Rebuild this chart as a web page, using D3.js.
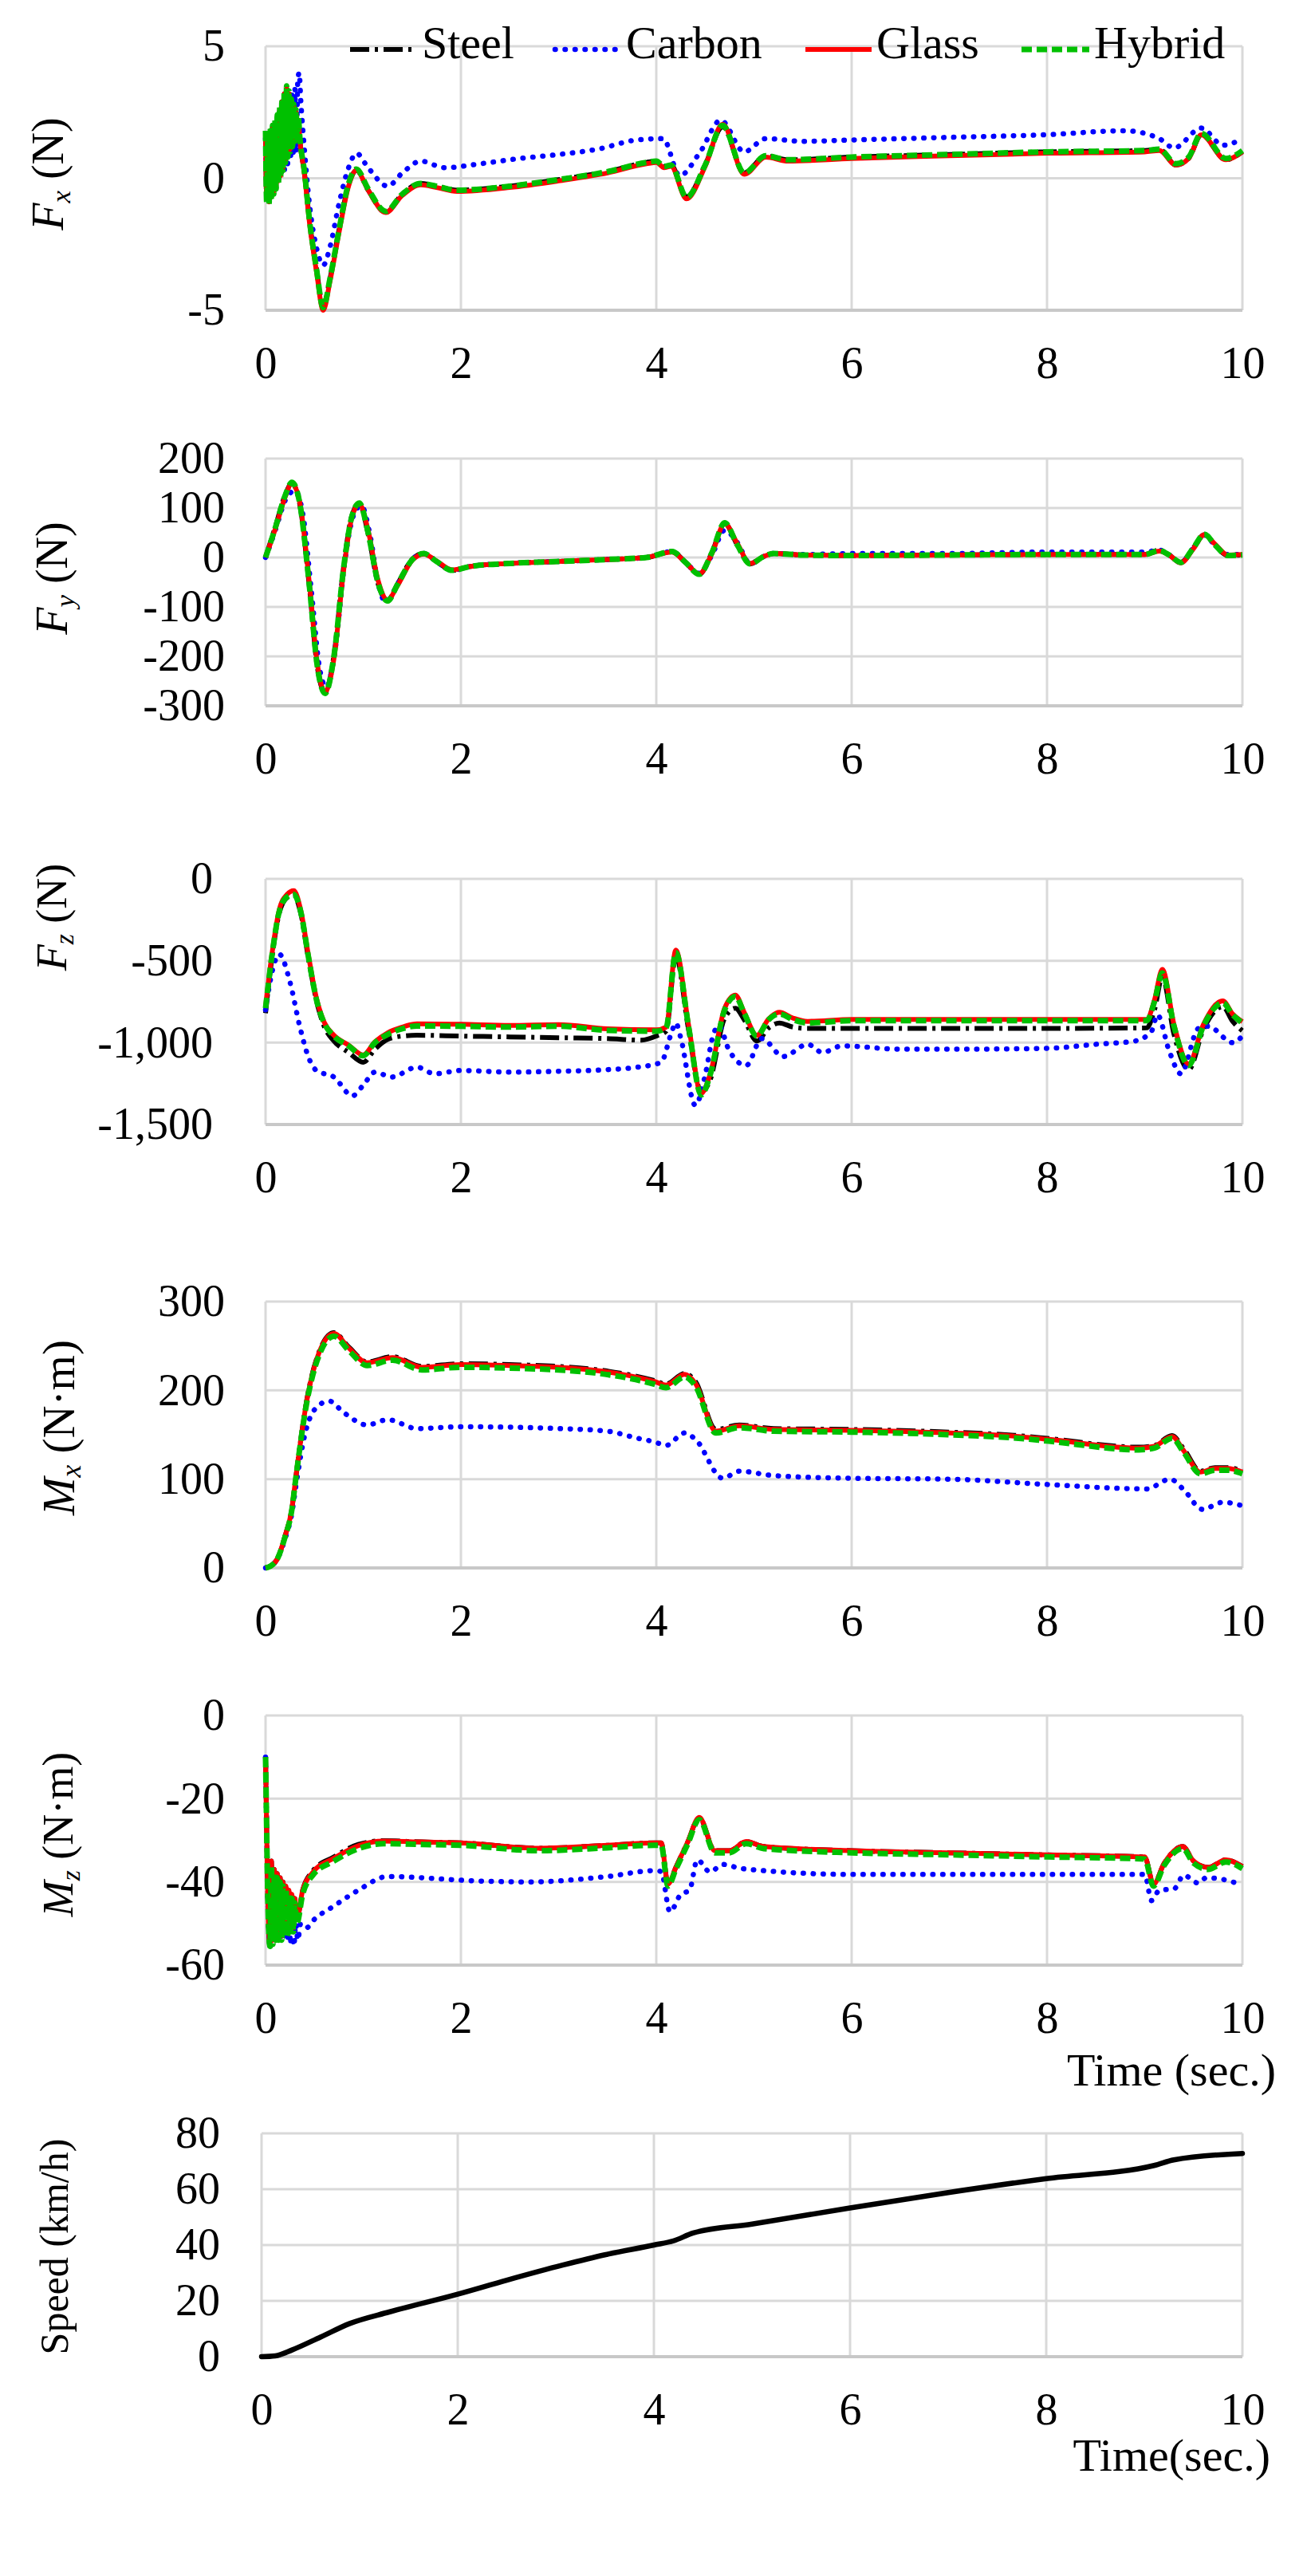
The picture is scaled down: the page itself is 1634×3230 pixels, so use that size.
<!DOCTYPE html>
<html><head><meta charset="utf-8">
<script src="https://cdn.jsdelivr.net/npm/d3@7"></script>
<style>
html,body{margin:0;padding:0;background:#fff;}
svg{display:block;}
text{font-family:"Liberation Serif","Times New Roman",serif;fill:#000;}
</style></head><body>
<svg id="chart" width="1634" height="3230"></svg>
<script>
// ---------------- DATA ----------------
const seriesNames = ["Steel","Carbon","Glass","Hybrid"];
const xTicks = [0,2,4,6,8,10];
const fxTicks = [-5,0,5];
const fyTicks = [-300,-200,-100,0,100,200];
const fzTicks = [-1500,-1000,-500,0];
const mxTicks = [0,100,200,300];
const mzTicks = [-60,-40,-20,0];
const speedTicks = [0,20,40,60,80];

// Fx (N)  [time, value]
const fxHybrid = [[0,1.8],[0.012,-0.9],[0.024,1.7],[0.036,-1.0],[0.048,1.9],[0.06,-0.8],[0.072,2.0],[0.084,-0.6],[0.096,2.2],[0.108,-0.4],[0.12,2.4],[0.132,-0.2],[0.144,2.7],[0.156,0.0],[0.168,3.0],[0.18,0.3],[0.192,3.3],[0.204,0.6],[0.216,3.5],[0.228,0.8],[0.24,3.3],[0.252,1.0],[0.264,3.0],[0.276,1.2],[0.288,2.8],[0.3,1.4],[0.312,2.6],[0.324,1.5],[0.336,2.3],[0.35,1.6],[0.4,0.2],[0.45,-1.6],[0.52,-3.4],[0.59,-4.9],[0.66,-3.8],[0.75,-2.0],[0.85,-0.2],[0.93,0.35],[1.05,-0.4],[1.23,-1.25],[1.4,-0.6],[1.59,-0.2],[1.75,-0.3],[1.96,-0.45],[2.5,-0.3],[3.0,-0.05],[3.5,0.25],[3.9,0.6],[4.0,0.65],[4.08,0.45],[4.15,0.5],[4.31,-0.72],[4.5,0.5],[4.68,2.0],[4.9,0.2],[5.12,0.85],[5.35,0.7],[6,0.8],[7,0.9],[8,1.0],[9,1.05],[9.15,1.1],[9.32,0.55],[9.45,0.8],[9.58,1.7],[9.83,0.75],[10,1.05]];
const fxGlass = [[0,1.7],[0.012,-0.8],[0.024,1.6],[0.036,-0.9],[0.048,1.8],[0.06,-0.7],[0.072,1.9],[0.084,-0.5],[0.096,2.1],[0.108,-0.3],[0.12,2.3],[0.132,-0.1],[0.144,2.6],[0.156,0.1],[0.168,2.9],[0.18,0.4],[0.192,3.2],[0.204,0.7],[0.216,3.4],[0.228,0.9],[0.24,3.2],[0.252,1.1],[0.264,2.9],[0.276,1.3],[0.288,2.7],[0.3,1.5],[0.312,2.5],[0.324,1.6],[0.336,2.2],[0.35,1.5],[0.4,0.1],[0.45,-1.7],[0.52,-3.5],[0.59,-5.0],[0.66,-3.9],[0.75,-2.1],[0.85,-0.3],[0.93,0.3],[1.05,-0.45],[1.23,-1.3],[1.4,-0.65],[1.59,-0.25],[1.75,-0.35],[1.96,-0.5],[2.5,-0.35],[3.0,-0.1],[3.5,0.2],[3.9,0.55],[4.0,0.6],[4.08,0.4],[4.15,0.45],[4.31,-0.78],[4.5,0.45],[4.68,2.05],[4.9,0.15],[5.12,0.8],[5.35,0.65],[6,0.75],[7,0.85],[8,0.95],[9,1.0],[9.15,1.05],[9.32,0.5],[9.45,0.75],[9.58,1.65],[9.83,0.7],[10,1.0]];
const fxSteel = [[0,1.6],[0.012,-0.9],[0.024,1.6],[0.036,-0.9],[0.048,1.8],[0.06,-0.7],[0.072,1.9],[0.084,-0.5],[0.096,2.1],[0.108,-0.3],[0.12,2.3],[0.132,-0.1],[0.144,2.6],[0.156,0.1],[0.168,2.9],[0.18,0.4],[0.192,3.2],[0.204,0.7],[0.216,3.4],[0.228,0.9],[0.24,3.2],[0.252,1.1],[0.264,2.9],[0.276,1.3],[0.288,2.7],[0.3,1.5],[0.312,2.5],[0.324,1.6],[0.336,2.2],[0.35,1.5],[0.4,0.15],[0.45,-1.6],[0.52,-3.4],[0.59,-4.85],[0.66,-3.8],[0.75,-2.0],[0.85,-0.25],[0.93,0.3],[1.05,-0.45],[1.23,-1.3],[1.4,-0.6],[1.59,-0.2],[1.75,-0.3],[1.96,-0.45],[2.5,-0.3],[3.0,-0.05],[3.5,0.25],[3.9,0.6],[4.0,0.65],[4.08,0.45],[4.15,0.5],[4.31,-0.7],[4.5,0.5],[4.68,1.95],[4.9,0.2],[5.12,0.85],[5.35,0.7],[6,0.8],[7,0.9],[8,1.0],[9,1.05],[9.15,1.1],[9.32,0.5],[9.45,0.75],[9.58,1.65],[9.83,0.7],[10,1.0]];
const fxCarbon = [[0,1.5],[0.015,-0.8],[0.03,1.6],[0.045,-0.7],[0.06,1.8],[0.075,-0.5],[0.09,2.0],[0.105,-0.3],[0.12,2.2],[0.135,-0.1],[0.15,2.4],[0.165,0.1],[0.18,2.6],[0.195,0.3],[0.21,2.8],[0.225,0.5],[0.24,3.0],[0.255,0.7],[0.27,3.2],[0.285,0.9],[0.3,3.4],[0.315,1.0],[0.33,3.7],[0.345,4.0],[0.36,3.0],[0.4,1.0],[0.45,-1.0],[0.52,-2.6],[0.59,-3.3],[0.66,-2.6],[0.75,-1.0],[0.85,0.4],[0.93,0.95],[1.05,0.4],[1.25,-0.3],[1.4,0.2],[1.59,0.65],[1.83,0.4],[2.2,0.55],[2.6,0.75],[3.0,0.9],[3.4,1.1],[3.8,1.45],[4.07,1.5],[4.24,0.1],[4.45,1.0],[4.66,2.2],[4.9,1.0],[5.12,1.5],[5.5,1.4],[6,1.45],[7,1.55],[8,1.65],[8.8,1.8],[9.15,1.5],[9.3,1.15],[9.58,1.9],[9.8,1.25],[10,1.5]];

// Fy (N)
const fyHybrid = [[0,0],[0.1,60],[0.2,125],[0.27,152],[0.35,110],[0.45,-60],[0.53,-220],[0.61,-275],[0.7,-200],[0.8,-20],[0.88,80],[0.96,110],[1.05,50],[1.15,-50],[1.25,-88],[1.35,-55],[1.5,-5],[1.62,8],[1.75,-8],[1.91,-26],[2.1,-18],[2.5,-12],[3.0,-8],[3.5,-4],[3.9,0],[4.16,12],[4.3,-10],[4.44,-34],[4.57,10],[4.7,70],[4.83,25],[4.96,-13],[5.1,2],[5.2,8],[5.5,5],[6,4],[7,5],[8,6],[9,6],[9.15,14],[9.25,5],[9.37,-10],[9.5,20],[9.61,47],[9.72,25],[9.85,4],[10,5]];
const fyGlass = [[0,0],[0.1,58],[0.2,122],[0.27,150],[0.35,112],[0.45,-55],[0.53,-215],[0.61,-272],[0.7,-205],[0.8,-25],[0.88,78],[0.96,108],[1.05,55],[1.15,-45],[1.25,-86],[1.35,-57],[1.5,-6],[1.62,7],[1.75,-7],[1.91,-25],[2.1,-18],[2.5,-12],[3.0,-8],[3.5,-4],[3.9,0],[4.16,11],[4.3,-10],[4.44,-33],[4.57,8],[4.7,68],[4.83,28],[4.96,-12],[5.1,2],[5.2,8],[5.5,5],[6,4],[7,5],[8,6],[9,6],[9.15,13],[9.25,5],[9.37,-11],[9.5,18],[9.61,46],[9.72,27],[9.85,5],[10,6]];
const fySteel = [[0,0],[0.1,62],[0.2,126],[0.27,150],[0.35,108],[0.45,-62],[0.53,-222],[0.61,-273],[0.7,-198],[0.8,-18],[0.88,82],[0.96,109],[1.05,48],[1.15,-52],[1.25,-87],[1.35,-54],[1.5,-4],[1.62,8],[1.75,-8],[1.91,-26],[2.1,-18],[2.5,-12],[3.0,-8],[3.5,-4],[3.9,0],[4.16,12],[4.3,-10],[4.44,-34],[4.57,10],[4.7,69],[4.83,25],[4.96,-13],[5.1,2],[5.2,8],[5.5,5],[6,4],[7,5],[8,6],[9,6],[9.15,15],[9.25,5],[9.37,-10],[9.5,20],[9.61,46],[9.72,25],[9.85,4],[10,5]];
const fyCarbon = [[0,0],[0.1,55],[0.2,115],[0.3,135],[0.38,90],[0.47,-70],[0.55,-220],[0.62,-262],[0.71,-190],[0.81,-10],[0.9,85],[0.98,105],[1.07,45],[1.15,-50],[1.23,-90],[1.35,-55],[1.5,-5],[1.62,8],[1.75,-8],[1.91,-26],[2.1,-18],[2.5,-12],[3,-8],[3.5,-4],[3.9,0],[4.16,12],[4.3,-10],[4.44,-32],[4.57,5],[4.7,55],[4.83,30],[4.96,-12],[5.1,2],[5.2,8],[5.5,6],[6,8],[7,8],[8,11],[9,11],[9.15,15],[9.25,5],[9.37,-10],[9.5,20],[9.61,45],[9.72,25],[9.85,6],[10,6]];

// Fz (N)
const fzHybrid = [[0,-790],[0.07,-450],[0.14,-200],[0.22,-110],[0.29,-95],[0.36,-200],[0.44,-480],[0.52,-735],[0.6,-880],[0.7,-960],[0.85,-1020],[1.0,-1080],[1.12,-1000],[1.25,-950],[1.4,-915],[1.55,-898],[2.0,-900],[2.5,-905],[3.0,-900],[3.5,-925],[4.0,-930],[4.1,-910],[4.2,-450],[4.33,-900],[4.46,-1320],[4.55,-1200],[4.7,-800],[4.81,-718],[4.9,-820],[5.03,-960],[5.15,-860],[5.26,-825],[5.4,-860],[5.55,-880],[6,-866],[7,-866],[8,-866],[9.02,-866],[9.1,-750],[9.18,-575],[9.3,-900],[9.45,-1140],[9.6,-900],[9.8,-757],[9.9,-830],[10,-880]];
const fzGlass = [[0,-780],[0.07,-440],[0.14,-190],[0.22,-95],[0.29,-72],[0.36,-190],[0.44,-470],[0.52,-725],[0.6,-875],[0.7,-955],[0.85,-1015],[1.0,-1075],[1.12,-995],[1.25,-940],[1.4,-905],[1.55,-885],[2.0,-888],[2.5,-895],[3.0,-890],[3.5,-915],[4.0,-922],[4.1,-905],[4.2,-435],[4.33,-890],[4.46,-1310],[4.55,-1195],[4.7,-790],[4.81,-710],[4.9,-815],[5.03,-955],[5.15,-855],[5.26,-815],[5.4,-850],[5.55,-870],[6,-858],[7,-858],[8,-858],[9.02,-858],[9.1,-740],[9.18,-553],[9.3,-890],[9.45,-1130],[9.6,-890],[9.8,-745],[9.9,-825],[10,-872]];
const fzSteel = [[0,-820],[0.07,-460],[0.14,-210],[0.22,-115],[0.29,-100],[0.36,-210],[0.44,-490],[0.52,-740],[0.6,-900],[0.7,-990],[0.85,-1060],[1.0,-1120],[1.12,-1040],[1.25,-980],[1.4,-960],[1.55,-955],[2.0,-960],[2.5,-965],[3.0,-970],[3.5,-975],[3.85,-985],[4.0,-960],[4.1,-930],[4.2,-470],[4.33,-920],[4.46,-1300],[4.55,-1230],[4.7,-850],[4.81,-790],[4.9,-860],[5.03,-990],[5.15,-910],[5.26,-880],[5.4,-905],[5.55,-913],[6,-913],[7,-913],[8,-913],[9.02,-910],[9.1,-800],[9.18,-600],[9.3,-950],[9.45,-1165],[9.6,-920],[9.8,-780],[9.9,-870],[10,-928]];
const fzCarbon = [[0,-800],[0.07,-560],[0.14,-460],[0.25,-630],[0.35,-900],[0.44,-1090],[0.52,-1170],[0.7,-1210],[0.89,-1325],[1.0,-1260],[1.12,-1180],[1.29,-1210],[1.55,-1150],[1.73,-1190],[2.0,-1170],[2.5,-1180],[3.0,-1175],[3.5,-1165],[3.81,-1150],[4.05,-1120],[4.15,-950],[4.2,-880],[4.25,-970],[4.4,-1383],[4.5,-1200],[4.58,-960],[4.64,-895],[4.74,-1040],[4.92,-1140],[5.08,-975],[5.3,-1085],[5.55,-1010],[5.7,-1060],[5.9,-1020],[6.5,-1040],[7,-1040],[8,-1035],[8.5,-1010],[8.9,-990],[9.07,-930],[9.13,-830],[9.25,-1050],[9.37,-1190],[9.55,-913],[9.65,-900],[9.9,-1000],[10,-960]];

// Mx (N·m)
const mxHybrid = [[0,0],[0.05,2],[0.12,10],[0.2,35],[0.27,66],[0.31,101],[0.42,185],[0.55,240],[0.7,261],[0.85,245],[1.04,228],[1.3,234],[1.6,223],[2,226],[2.5,225],[3,223],[3.34,220],[3.7,214],[3.98,207],[4.1,203],[4.29,215],[4.4,205],[4.61,152],[4.85,158],[5.2,154],[6,153],[7,150],[7.71,146],[8,143],[8.94,133],[9.1,135],[9.28,146],[9.4,130],[9.57,106],[9.72,110],[9.85,110],[10,106]];
const mxGlass = [[0,0],[0.05,2],[0.12,10],[0.2,36],[0.27,67],[0.31,102],[0.42,187],[0.55,243],[0.7,264],[0.85,248],[1.04,231],[1.3,237],[1.6,226],[2,229],[2.5,228],[3,226],[3.34,223],[3.7,217],[3.98,210],[4.1,206],[4.29,218],[4.4,208],[4.61,154],[4.85,160],[5.2,156],[6,155],[7,152],[7.71,148],[8,145],[8.94,135],[9.1,137],[9.28,148],[9.4,132],[9.57,108],[9.72,112],[9.85,112],[10,108]];
const mxSteel = [[0,0],[0.05,2],[0.12,10],[0.2,36],[0.27,67],[0.31,102],[0.42,188],[0.55,244],[0.7,265],[0.85,249],[1.04,232],[1.3,238],[1.6,227],[2,230],[2.5,229],[3,227],[3.34,224],[3.7,218],[3.98,211],[4.1,207],[4.29,219],[4.4,210],[4.61,156],[4.85,161],[5.2,157],[6,156],[7,153],[7.71,149],[8,146],[8.94,136],[9.1,138],[9.28,149],[9.4,134],[9.57,109],[9.72,113],[9.85,113],[10,109]];
const mxCarbon = [[0,0],[0.05,2],[0.12,10],[0.2,33],[0.27,62],[0.31,92],[0.4,149],[0.5,178],[0.65,188],[0.8,175],[1.04,161],[1.25,167],[1.55,157],[2,159],[3,157],[3.5,154],[3.81,146],[3.98,142],[4.1,138],[4.29,152],[4.4,145],[4.68,101],[4.85,109],[5.2,104],[6,101],[7,100],[8,94],[9.02,89],[9.26,100],[9.4,88],[9.59,66],[9.8,74],[10,70]];

// Mz (N·m)
const mzHybrid = [[0,-10],[0.01,-25],[0.02,-40],[0.03,-50],[0.045,-55.5],[0.06,-36],[0.075,-55],[0.09,-38],[0.105,-54],[0.12,-39],[0.135,-54],[0.15,-40],[0.165,-54],[0.18,-41],[0.195,-53],[0.21,-42],[0.225,-53],[0.24,-43],[0.255,-52],[0.27,-44],[0.285,-52],[0.3,-45],[0.32,-50],[0.38,-43],[0.48,-38.5],[0.7,-35],[0.95,-32],[1.21,-30.8],[1.6,-31],[2,-31.2],[2.8,-32.5],[3.5,-31.8],[3.98,-31.2],[4.05,-31.2],[4.12,-41],[4.2,-37],[4.32,-31],[4.44,-25],[4.6,-33],[4.75,-33],[4.92,-30.8],[5.1,-32],[6,-33],[7,-33.5],[8,-34],[9.0,-34.5],[9.09,-41],[9.2,-36],[9.39,-32],[9.5,-35.5],[9.65,-37],[9.83,-35.2],[10,-36.8]];
const mzGlass = [[0,-10],[0.01,-25],[0.02,-40],[0.03,-50],[0.045,-55],[0.06,-35],[0.075,-54],[0.09,-37],[0.105,-53],[0.12,-38],[0.135,-53],[0.15,-39],[0.165,-53],[0.18,-40],[0.195,-52],[0.21,-41],[0.225,-52],[0.24,-42],[0.255,-51],[0.27,-43],[0.285,-51],[0.3,-44],[0.32,-49],[0.38,-42],[0.48,-37.8],[0.7,-34.3],[0.95,-31.3],[1.21,-30.2],[1.6,-30.4],[2,-30.6],[2.8,-31.9],[3.5,-31.2],[3.98,-30.6],[4.05,-30.6],[4.12,-40.5],[4.2,-36.5],[4.32,-30.5],[4.44,-24.5],[4.6,-32.5],[4.75,-32.5],[4.92,-30.3],[5.1,-31.5],[6,-32.5],[7,-33],[8,-33.5],[9.0,-34],[9.09,-40.5],[9.2,-35.5],[9.39,-31.5],[9.5,-35],[9.65,-36.5],[9.83,-34.7],[10,-36.3]];
const mzSteel = [[0,-10],[0.01,-25],[0.02,-40],[0.03,-50],[0.045,-56],[0.06,-35],[0.075,-55],[0.09,-37],[0.105,-54],[0.12,-38],[0.135,-53],[0.15,-39],[0.165,-53],[0.18,-40],[0.195,-52],[0.21,-41],[0.225,-52],[0.24,-42],[0.255,-51],[0.27,-43],[0.285,-51],[0.3,-44],[0.32,-49],[0.38,-42],[0.48,-37.5],[0.7,-34],[0.95,-31],[1.21,-30.1],[1.6,-30.4],[2,-30.6],[2.8,-31.9],[3.5,-31.2],[3.98,-30.6],[4.05,-30.6],[4.12,-40.5],[4.2,-36.5],[4.32,-30.5],[4.44,-24.6],[4.6,-32.5],[4.75,-32.5],[4.92,-30.3],[5.1,-31.5],[6,-32.5],[7,-33],[8,-33.5],[9.0,-34],[9.09,-40.5],[9.2,-35.5],[9.39,-31.5],[9.5,-35],[9.65,-36.5],[9.83,-34.7],[10,-36.3]];
const mzCarbon = [[0,-10],[0.01,-25],[0.02,-40],[0.03,-50],[0.045,-55],[0.06,-37],[0.075,-54],[0.09,-39],[0.105,-54],[0.12,-40],[0.135,-54],[0.15,-41],[0.165,-54],[0.18,-42],[0.195,-54],[0.21,-43],[0.225,-54],[0.24,-45],[0.255,-55],[0.27,-47],[0.29,-55.4],[0.31,-50],[0.33,-54],[0.36,-50],[0.42,-51],[0.5,-49],[0.7,-45.8],[0.95,-42],[1.25,-38.7],[1.6,-39],[2,-39.6],[2.7,-40],[3.5,-38.7],[3.98,-37.3],[4.05,-37.5],[4.14,-47.2],[4.25,-43],[4.34,-42],[4.42,-34.7],[4.55,-37.6],[4.68,-35.8],[4.85,-36.7],[5.1,-37.3],[6,-38.2],[8,-38.2],[9,-38.2],[9.07,-44.5],[9.15,-42],[9.3,-41.7],[9.4,-38.4],[9.55,-40.3],[9.63,-39],[9.9,-40],[10,-41]];

// Speed (km/h)
const speed = [[0,0],[0.14,0.3],[0.31,2.4],[0.6,7],[0.9,11.9],[1.3,16],[2,22.4],[2.5,27.4],[3.07,32.8],[3.5,36.5],[4,40],[4.2,41.5],[4.4,44.3],[5,47.5],[6,53.3],[7,58.8],[8,63.8],[9.1,68.5],[9.3,70.5],[10,72.8]];

// ---------------- STYLE / LAYOUT ----------------
const styles = {
  Steel:  {color:"#000000", width:6,   dash:"24 7 4 7", cap:"butt"},
  Carbon: {color:"#0000ff", width:6.5, dash:"0.5 12",   cap:"round"},
  Glass:  {color:"#ff0000", width:6,   dash:null,       cap:"butt"},
  Hybrid: {color:"#00c000", width:7,   dash:"13 6",     cap:"butt"}
};
const X1 = 1558;
const gridColor = "#d9d9d9";
const tickFont = 56;
const fmt = d3.formatLocale({decimal:".", thousands:",", grouping:[3], currency:["",""], minus:"-"}).format(",");

const panels = [
  {left:333, top:58,   bottom:389,  domain:[-5,5],     ticks:fxTicks, labelX:282, title:[["F",1,0],["x",1,1],[" (N)",0,0]], tx:60, ty:218, tsize:56,
   series:{Steel:fxSteel, Carbon:fxCarbon, Glass:fxGlass, Hybrid:fxHybrid}},
  {left:333, top:575,  bottom:885,  domain:[-300,200], ticks:fyTicks, labelX:282, title:[["F",1,0],["y",1,1],[" (N)",0,0]], tx:65, ty:725, tsize:56,
   series:{Steel:fySteel, Carbon:fyCarbon, Glass:fyGlass, Hybrid:fyHybrid}},
  {left:333, top:1102, bottom:1410, domain:[-1500,0],  ticks:fzTicks, labelX:267, title:[["F",1,0],["z",1,1],[" (N)",0,0]], tx:65, ty:1150, tsize:54,
   series:{Steel:fzSteel, Carbon:fzCarbon, Glass:fzGlass, Hybrid:fzHybrid}},
  {left:333, top:1632, bottom:1966, domain:[0,300],    ticks:mxTicks, labelX:282, title:[["M",1,0],["x",1,1],[" (N\u00b7m)",0,0]], tx:73, ty:1790, tsize:57,
   series:{Steel:mxSteel, Carbon:mxCarbon, Glass:mxGlass, Hybrid:mxHybrid}},
  {left:333, top:2151, bottom:2464, domain:[-60,0],    ticks:mzTicks, labelX:282, title:[["M",1,0],["z",1,1],[" (N\u00b7m)",0,0]], tx:73, ty:2300, tsize:54,
   series:{Steel:mzSteel, Carbon:mzCarbon, Glass:mzGlass, Hybrid:mzHybrid}},
  {left:328, top:2675, bottom:2955, domain:[0,80],     ticks:speedTicks, labelX:276, title:[["Speed (km/h)",0,0]], tx:68, ty:2817, tsize:50,
   series:{Speed:speed}}
];

// ---------------- DRAW ----------------
const svg = d3.select("#chart");
svg.append("rect").attr("width",1634).attr("height",3230).attr("fill","#fff");

panels.forEach(p => {
  const x = d3.scaleLinear().domain([0,10]).range([p.left, X1]);
  const y = d3.scaleLinear().domain(p.domain).range([p.bottom, p.top]);
  const g = svg.append("g");

  // grid
  g.append("g").selectAll("line").data(xTicks).join("line")
    .attr("x1", d=>x(d)).attr("x2", d=>x(d)).attr("y1", p.top).attr("y2", p.bottom)
    .attr("stroke", gridColor).attr("stroke-width", 3);
  g.append("g").selectAll("line").data(p.ticks).join("line")
    .attr("x1", p.left).attr("x2", X1).attr("y1", d=>y(d)).attr("y2", d=>y(d))
    .attr("stroke", d => d===p.domain[0] ? "#c8c8c8" : gridColor).attr("stroke-width", d => d===p.domain[0] ? 4 : 3);

  // axes labels
  const ya = g.append("g").attr("transform", `translate(${p.left},0)`)
    .call(d3.axisLeft(y).tickValues(p.ticks).tickSize(0).tickPadding(p.left - p.labelX).tickFormat(fmt));
  const xa = g.append("g").attr("transform", `translate(0,${p.bottom})`)
    .call(d3.axisBottom(x).tickValues(xTicks).tickSize(0).tickPadding(45).tickFormat(d3.format("d")));
  [ya, xa].forEach(a => {
    a.select(".domain").remove();
    a.attr("font-size", null).attr("font-family", null);
    a.selectAll("text").attr("font-size", tickFont).attr("fill", "#000")
      .style("font-family", '"Liberation Serif","Times New Roman",serif');
  });

  // series
  Object.keys(p.series).forEach(name => {
    const st = styles[name] || {color:"#000", width:6.5, dash:null, cap:"round"};
    const line = d3.line().x(d=>x(d[0])).y(d=>y(d[1])).curve(d3.curveMonotoneX);
    g.append("path").datum(p.series[name]).attr("d", line)
      .attr("fill","none").attr("stroke", st.color).attr("stroke-width", st.width)
      .attr("stroke-dasharray", st.dash).attr("stroke-linecap", st.cap).attr("stroke-linejoin","round");
  });

  // y title
  const t = g.append("text").attr("transform", `translate(${p.tx},${p.ty}) rotate(-90)`)
    .attr("text-anchor","middle").attr("dominant-baseline","central").attr("font-size", p.tsize);
  p.title.forEach(([s, it, sub]) => {
    const ts = t.append("tspan").text(s);
    if (it) ts.attr("font-style","italic");
    if (sub) ts.attr("font-size", p.tsize*0.62).attr("dy", p.tsize*0.28);
    else if (t.selectAll("tspan").size() > 1) ts.attr("dy", -p.tsize*0.28);
  });
});

// x-axis titles
svg.append("text").attr("x",1600).attr("y",2595).attr("text-anchor","end").attr("dominant-baseline","central")
  .attr("font-size",58).text("Time (sec.)");
svg.append("text").attr("x",1593).attr("y",3078).attr("text-anchor","end").attr("dominant-baseline","central")
  .attr("font-size",58).text("Time(sec.)");

// legend
const legendItems = [
  {name:"Steel",  x0:439,  x1:523},
  {name:"Carbon", x0:696,  x1:779},
  {name:"Glass",  x0:1010, x1:1093},
  {name:"Hybrid", x0:1281, x1:1366}
];
const lg = svg.append("g");
legendItems.forEach(it => {
  const st = styles[it.name];
  lg.append("line").attr("x1", it.x0).attr("x2", it.x1).attr("y1", 62).attr("y2", 62)
    .attr("stroke", st.color).attr("stroke-width", st.width).attr("stroke-dasharray", st.dash).attr("stroke-linecap", st.cap);
  lg.append("text").attr("x", it.x1 + 6).attr("y", 73).attr("font-size", 58).text(it.name);
});
</script>
</body></html>
